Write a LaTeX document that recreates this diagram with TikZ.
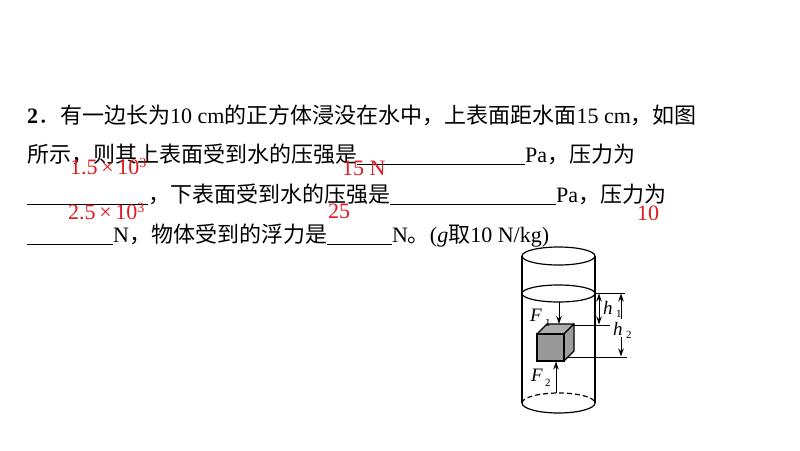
\documentclass[tikz,border=0pt]{standalone}
\usepackage{fontspec}
\setmainfont{Liberation Serif}
\newfontfamily\cjk{Noto Sans CJK SC}
\usetikzlibrary{arrows.meta}
\definecolor{ansred}{RGB}{225,25,30}
\newcommand{\zh}[1]{{\cjk #1}}
\newcommand{\blank}[1]{\rule[-3pt]{#1}{0.8pt}}
\newcommand{\supthree}{\raisebox{7pt}{\fontsize{14}{16}\selectfont 3}}
\tikzset{
  txt/.style={anchor=base west, inner sep=0pt, font=\fontsize{22}{26}\selectfont},
  ans/.style={anchor=base west, inner sep=0pt, text=ansred, font=\fontsize{22}{26}\selectfont},
  lbl/.style={anchor=base west, inner sep=0pt, font=\fontsize{19}{22}\selectfont\itshape},
  sub/.style={anchor=base west, inner sep=0pt, font=\fontsize{11}{12}\selectfont},
  wall/.style={line width=1.2pt},
  arr/.style={line width=1pt, -{Stealth[length=8pt,width=5.5pt]}},
  darr/.style={line width=1pt, {Stealth[length=8pt,width=5.5pt]}-{Stealth[length=8pt,width=5.5pt]}},
  dim/.style={line width=1pt},
}
\begin{document}
\begin{tikzpicture}[x=1pt,y=-1pt]
\useasboundingbox (0,0) rectangle (800,450);
% text
\node[txt] (l1) at (27,123) {\textbf{2}\zh{．有一边长为}10 cm\zh{的正方体浸没在水中，上表面距水面}15 cm\zh{，如图}};
\node[txt] (l2) at (27,162) {\zh{所示，则其上表面受到水的压强是}\blank{168pt}Pa\zh{，压力为}};
\node[txt] (l3) at (27,202) {\blank{121pt}\zh{，下表面受到水的压强是}\blank{166pt}Pa\zh{，压力为}};
\node[txt] (l4) at (27,242) {\blank{86pt}N\zh{，物体受到的浮力是}\blank{65pt}N\zh{。}(\textit{g}\zh{取}10 N/kg)};
% answers
\node[ans] (a1) at (70,174) {1.5\,×\,10\supthree};
\node[ans] (a2) at (342,175) {15 N};
\node[ans] (a3) at (68,219) {2.5\,×\,10\supthree};
\node[ans] (a4) at (328,218) {25};
\node[ans] (a5) at (637,220) {10};
% cylinder
\coordinate (ctop) at (558.5,256);
\coordinate (csurf) at (558.5,293.5);
\coordinate (tl) at (522,256);
\coordinate (tr) at (595,256);
\coordinate (bl) at (522,403);
\coordinate (br) at (595,403);
\draw[wall] (ctop) ellipse [x radius=36.5, y radius=9];
\draw[wall] (csurf) ellipse [x radius=36.5, y radius=8.5];
\draw[wall] (tl) -- (bl);
\draw[wall] (tr) -- (br);
\draw[wall, dash pattern=on 5pt off 3pt] (bl) arc[start angle=180, end angle=0, x radius=36.5pt, y radius=10pt];
\draw[wall] (bl) arc[start angle=180, end angle=360, x radius=36.5pt, y radius=10pt];
% cube
\draw[line width=1.3pt, fill=black!32, line join=round] (537,334) -- (547,324) -- (574,324) -- (564,334) -- cycle;
\draw[line width=1.3pt, fill=black!38, line join=round] (564,334) -- (574,324) -- (574,351) -- (564,361) -- cycle;
\draw[line width=1.3pt, fill=black!40] (537,334) rectangle (564,361);
% forces
\coordinate (f1s) at (559,302);
\coordinate (f1e) at (559,324);
\coordinate (f2s) at (556,393);
\coordinate (f2e) at (556,361.5);
\draw[arr] (f1s) -- (f1e);
\draw[arr] (f2s) -- (f2e);
\node[lbl] (F1) at (530,321) {F};
\node[sub] (F1s) at (545,326) {1};
\node[lbl] (F2) at (531,381) {F};
\node[sub] (F2s) at (545,386) {2};
% dimension lines
\coordinate (s1) at (596,293);
\coordinate (s2) at (625,293);
\coordinate (t1) at (574,325);
\coordinate (t2) at (610,325);
\coordinate (u1) at (567,357);
\coordinate (u2) at (627,357);
\draw[dim] (s1) -- (s2);
\draw[dim] (t1) -- (t2);
\draw[dim] (u1) -- (u2);
\coordinate (h1a) at (599,293.5);
\coordinate (h1b) at (599,324.5);
\draw[darr] (h1a) -- (h1b);
\coordinate (h2a) at (621,293.5);
\coordinate (h2m) at (621,319);
\coordinate (h2n) at (621,337);
\coordinate (h2b) at (621,356.5);
\draw[arr] (h2m) -- (h2a);
\draw[arr] (h2n) -- (h2b);
\node[lbl] (h1) at (603,314) {h};
\node[sub] (h1s) at (616,317) {1};
\node[lbl] (h2) at (613,335) {h};
\node[sub] (h2s) at (626,338) {2};
\end{tikzpicture}
\end{document}
